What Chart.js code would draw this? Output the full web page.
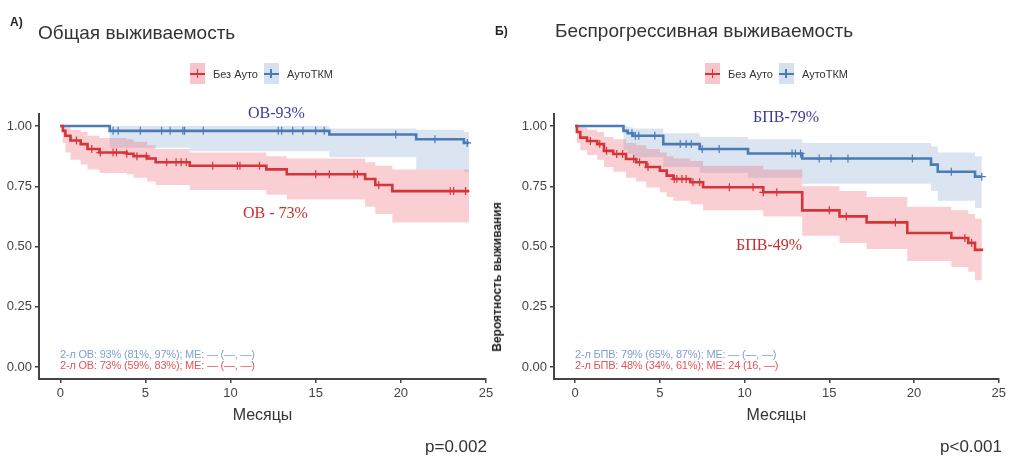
<!DOCTYPE html>
<html>
<head>
<meta charset="utf-8">
<script src="https://cdn.jsdelivr.net/npm/chart.js@4.4.0/dist/chart.umd.min.js"></script>
<style>
body { margin: 0; background: #fff; width: 1009px; height: 458px; overflow: hidden; position: relative; font-family: "Liberation Sans", Arial, sans-serif; }
canvas { position: absolute; top: 0; }
.t { position: absolute; white-space: nowrap; }
.title { font-size: 19px; color: #333; line-height: 20px; }
.tag { font-size: 12px; font-weight: bold; color: #222; }
.legend { position: absolute; display: flex; align-items: center; font-size: 11px; color: #333; }
.key { display: inline-block; width: 15px; height: 21px; position: relative; margin-right: 8px; }
.key:before { content: ''; position: absolute; left: 0; right: 0; top: 9.5px; height: 2px; background: var(--c); }
.key:after { content: ''; position: absolute; left: 6.5px; top: 6px; width: 1.5px; height: 9px; background: var(--c); }
.key.red { background: #f6c6cb; --c: #d7343a; }
.key.blue { background: #d6e1ef; --c: #4b7bb5; margin-left: 6px; }
.ann { font-family: "Liberation Serif", "Times New Roman", serif; font-size: 16px; line-height: 16px; }
.small { font-size: 11px; line-height: 11px; letter-spacing: -0.2px; }
.p { font-size: 17px; color: #333; line-height: 18px; }
</style>
</head>
<body>
<canvas id="os" width="500" height="458" style="left:0"></canvas>
<canvas id="pfs" width="509" height="458" style="left:500px"></canvas>

<div class="t tag" style="left:10px;top:15px">А)</div>
<div class="t title" style="left:38px;top:23px">Общая выживаемость</div>
<div class="t tag" style="left:495px;top:24px">Б)</div>
<div class="t title" style="left:555px;top:21px">Беспрогрессивная выживаемость</div>

<div class="legend" style="left:190px;top:63px"><span class="key red"></span>Без Ауто<span class="key blue"></span>АутоТКМ</div>
<div class="legend" style="left:705px;top:63px"><span class="key red"></span>Без Ауто<span class="key blue"></span>АутоТКМ</div>

<div class="t ann" style="left:248px;top:105px;color:#3b3b9e">ОВ-93%</div>
<div class="t ann" style="left:243px;top:205px;color:#cc2b2b">ОВ - 73%</div>
<div class="t ann" style="left:753px;top:109px;color:#3b3b9e">БПВ-79%</div>
<div class="t ann" style="left:736px;top:237px;color:#cc2b2b">БПВ-49%</div>

<div class="t small" style="left:60px;top:349px;color:#7f9fd0">2-л ОВ: 93% (81%, 97%); МЕ: — (—, —)</div>
<div class="t small" style="left:60px;top:360px;color:#e2555a">2-л ОВ: 73% (59%, 83%); МЕ: — (—, —)</div>
<div class="t small" style="left:575px;top:349px;color:#7f9fd0">2-л БПВ: 79% (65%, 87%); МЕ: — (—, —)</div>
<div class="t small" style="left:575px;top:360px;color:#e2555a">2-л БПВ: 48% (34%, 61%); МЕ: 24 (16, —)</div>

<div class="t" style="left:497px;top:277px;transform:translate(-50%,-50%) rotate(-90deg);font-size:12px;font-weight:bold;color:#222">Вероятность выживания</div>

<div class="t p" style="left:425px;top:438px">p=0.002</div>
<div class="t p" style="left:940px;top:438px">p&lt;0.001</div>

<script>
const xTicks = [0, 5, 10, 15, 20, 25];
const yTicks = [0, 0.25, 0.5, 0.75, 1];

// Общая выживаемость, АутоТКМ
const osAutoTime  = [0, 2.9, 7.6, 15.8, 20.9, 23.7, 24];
const osAutoSurv  = [1, 0.98, 0.98, 0.965, 0.945, 0.93, 0.93];
const osAutoUpper = [1, 1, 1, 0.99, 0.985, 0.975, 0.97];
const osAutoLower = [1, 0.91, 0.895, 0.87, 0.82, 0.81, 0.81];
const osAutoCens  = [3.1, 3.4, 4.7, 5.95, 6.45, 7.2, 7.3, 8.4, 12.8, 13.0, 13.65, 14.25, 15.0, 15.5, 19.7, 22.0, 23.9];

// Общая выживаемость, без ауто
const osNoTime  = [0, 0.15, 0.3, 0.6, 1.2, 1.6, 2.3, 3.9, 4.3, 5.1, 5.6, 7.6, 12.1, 13.3, 17.9, 18.5, 19.5, 24];
const osNoSurv  = [1, 0.98, 0.96, 0.94, 0.925, 0.905, 0.89, 0.885, 0.875, 0.865, 0.85, 0.835, 0.82, 0.80, 0.78, 0.755, 0.73, 0.73];
const osNoUpper = [1, 1, 0.995, 0.985, 0.975, 0.96, 0.95, 0.945, 0.935, 0.92, 0.905, 0.89, 0.875, 0.865, 0.85, 0.835, 0.82, 0.82];
const osNoLower = [1, 0.93, 0.89, 0.86, 0.84, 0.82, 0.805, 0.80, 0.785, 0.77, 0.755, 0.735, 0.715, 0.695, 0.665, 0.635, 0.60, 0.59];
const osNoCens  = [0.95, 1.85, 2.35, 3.1, 3.3, 3.9, 4.5, 5.05, 6.25, 6.8, 7.1, 7.4, 8.95, 10.4, 10.55, 11.7, 15.0, 15.8, 17.25, 17.45, 18.7, 22.9, 23.1, 23.8];

// Беспрогрессивная, АутоТКМ
const pfsAutoTime  = [0, 2.85, 3.1, 3.4, 5.2, 7.35, 10.2, 13.4, 21.0, 21.4, 23.6, 24];
const pfsAutoSurv  = [1, 0.98, 0.97, 0.96, 0.925, 0.905, 0.886, 0.865, 0.84, 0.81, 0.79, 0.79];
const pfsAutoUpper = [1, 1, 0.995, 0.99, 0.97, 0.955, 0.945, 0.93, 0.915, 0.89, 0.875, 0.87];
const pfsAutoLower = [1, 0.9, 0.885, 0.87, 0.83, 0.805, 0.785, 0.76, 0.73, 0.69, 0.66, 0.65];
const pfsAutoCens  = [3.35, 3.55, 3.75, 4.7, 6.2, 6.55, 6.85, 7.5, 8.5, 12.8, 13.0, 13.3, 14.4, 15.1, 16.1, 19.9, 22.2, 24];

// Беспрогрессивная, без ауто
const pfsNoTime  = [0, 0.1, 0.3, 0.7, 1.3, 1.7, 2.25, 3.0, 3.6, 4.2, 5.0, 5.4, 5.8, 6.8, 7.55, 11.1, 13.4, 15.6, 17.2, 19.6, 22.2, 23.2, 23.6, 24];
const pfsNoSurv  = [1, 0.975, 0.952, 0.938, 0.925, 0.897, 0.884, 0.863, 0.85, 0.83, 0.815, 0.794, 0.78, 0.767, 0.746, 0.725, 0.65, 0.625, 0.60, 0.556, 0.535, 0.515, 0.486, 0.48];
const pfsNoUpper = [1, 1, 0.995, 0.985, 0.975, 0.955, 0.945, 0.93, 0.92, 0.905, 0.89, 0.875, 0.865, 0.855, 0.835, 0.82, 0.75, 0.73, 0.705, 0.665, 0.65, 0.635, 0.615, 0.61];
const pfsNoLower = [1, 0.93, 0.9, 0.88, 0.86, 0.83, 0.81, 0.785, 0.77, 0.745, 0.725, 0.705, 0.69, 0.675, 0.65, 0.625, 0.545, 0.515, 0.49, 0.44, 0.415, 0.395, 0.36, 0.345];
const pfsNoCens  = [0.9, 1.45, 1.85, 2.45, 2.8, 3.45, 3.8, 4.3, 5.85, 6.0, 6.3, 6.55, 6.95, 7.35, 9.1, 10.5, 11.1, 11.9, 15.0, 16.0, 18.9, 23.0, 23.4];

const RED = '#d7343a', BLUE = '#4b7bb5';
const RED_BAND = 'rgba(235, 95, 110, 0.3)', BLUE_BAND = 'rgba(75, 125, 190, 0.2)';

// value of the step curve at time t
function stepAt(time, surv, t) {
  let v = surv[0];
  for (let i = 0; i < time.length; i++) if (time[i] <= t) v = surv[i];
  return v;
}

function kmDatasets(time, surv, upper, lower, cens, color, band) {
  const pts = (arr) => time.map((t, i) => ({ x: t, y: arr[i] }));
  return [
    { data: pts(upper), stepped: true, borderWidth: 0, pointRadius: 0, backgroundColor: band, fill: '+1', order: 3 },
    { data: pts(lower), stepped: true, borderWidth: 0, pointRadius: 0, fill: false, order: 3 },
    { data: pts(surv), stepped: true, borderColor: color, borderWidth: 2.6, pointRadius: 0, fill: false, order: 1 },
    { type: 'scatter', data: cens.map(t => ({ x: t, y: stepAt(time, surv, t) })), pointStyle: 'cross',
      pointRadius: 4, borderColor: color, borderWidth: 1.2, order: 0 }
  ];
}

function makeChart(id, datasets, yWidth, padRight) {
  return new Chart(document.getElementById(id), {
    type: 'line',
    data: { datasets: datasets },
    options: {
      responsive: false,
      animation: false,
      devicePixelRatio: 1,
      layout: { padding: { top: 114, left: 0, right: padRight, bottom: 29 } },
      plugins: { legend: { display: false }, tooltip: { enabled: false } },
      scales: {
        x: {
          type: 'linear', min: -1.25, max: 25,
          afterBuildTicks: (s) => { s.ticks = xTicks.map(v => ({ value: v })); },
          afterFit: (s) => { s.height = 50; },
          ticks: { color: '#444', font: { size: 13 }, padding: 3, maxRotation: 0, autoSkip: false },
          grid: { display: true, drawOnChartArea: false, drawTicks: true, tickLength: 4, color: '#444', lineWidth: 1.5 },
          border: { display: true, color: '#444', width: 2 },
          title: { display: true, text: 'Месяцы', color: '#333', font: { size: 16 }, padding: { top: 0, bottom: 4 } }
        },
        y: {
          type: 'linear', min: -0.05, max: 1.05,
          afterBuildTicks: (s) => { s.ticks = yTicks.map(v => ({ value: v })); },
          afterFit: (s) => { s.width = yWidth; },
          ticks: { color: '#444', font: { size: 13 }, padding: 3, autoSkip: false, callback: (v) => Number(v).toFixed(2) },
          grid: { display: true, drawOnChartArea: false, drawTicks: true, tickLength: 4, color: '#444', lineWidth: 1.5 },
          border: { display: true, color: '#444', width: 2 }
        }
      }
    }
  });
}

makeChart('os', [
  ...kmDatasets(osNoTime, osNoSurv, osNoUpper, osNoLower, osNoCens, RED, RED_BAND),
  ...kmDatasets(osAutoTime, osAutoSurv, osAutoUpper, osAutoLower, osAutoCens, BLUE, BLUE_BAND)
], 39, 14);

makeChart('pfs', [
  ...kmDatasets(pfsNoTime, pfsNoSurv, pfsNoUpper, pfsNoLower, pfsNoCens, RED, RED_BAND),
  ...kmDatasets(pfsAutoTime, pfsAutoSurv, pfsAutoUpper, pfsAutoLower, pfsAutoCens, BLUE, BLUE_BAND)
], 54, 9);
</script>
</body>
</html>
